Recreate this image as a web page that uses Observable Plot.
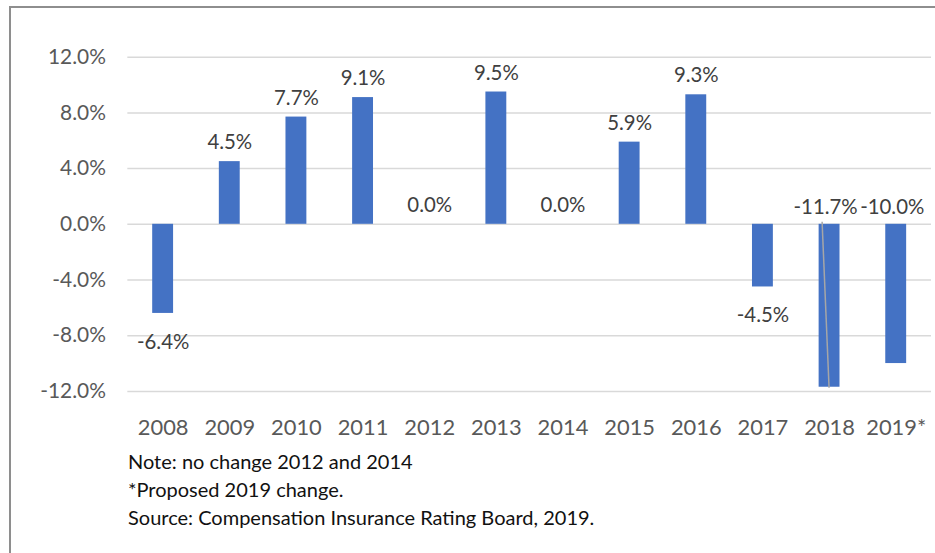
<!DOCTYPE html>
<html>
<head>
<meta charset="utf-8">
<script src="https://cdn.jsdelivr.net/npm/d3@7"></script>
<script src="https://cdn.jsdelivr.net/npm/@observablehq/plot@0.6"></script>
<style>
  html, body { margin: 0; padding: 0; background: #fff; overflow: hidden; }
  #wrap { position: relative; width: 935px; height: 553px; overflow: hidden; font-family: Lato, "Open Sans", sans-serif; }
  #frame { position: absolute; left: 9px; top: 6px; width: 1000px; height: 620px; border: 2px solid #8e8e8e; box-sizing: border-box; }
  #chart { position: absolute; left: 0; top: 0; }
  #caption { position: absolute; left: 128px; top: 447px; font-size: 20px; line-height: 28px; color: #111; white-space: nowrap; }
</style>
</head>
<body>
<div id="wrap">
  <div id="frame"></div>
  <div id="chart"></div>
  <div id="caption"></div>
</div>
<script>
// Data (percent change)
const years = ["2008","2009","2010","2011","2012","2013","2014","2015","2016","2017","2018","2019*"];
const values = [-6.4, 4.5, 7.7, 9.1, 0.0, 9.5, 0.0, 5.9, 9.3, -4.5, -11.7, -10.0];
const yTicks = [-12, -8, -4, 0, 4, 8, 12];
const captionLines = [
  "Note: no change 2012 and 2014",
  "*Proposed 2019 change.",
  "Source: Compensation Insurance Rating Board, 2019."
];
const leaderYears = ["2018"];

const data = years.map((y, i) => ({year: y, value: values[i]}));
const fmt = v => v.toFixed(1) + "%";

const posLabels = data.filter(d => d.value >= 0);
const negLabels = data.filter(d => d.value < 0 && d.value > -9);
const movedLabels = data.filter(d => d.value <= -9);

function leader(index, scales) {
  const ns = "http://www.w3.org/2000/svg";
  const g = document.createElementNS(ns, "g");
  const xs = scales.x, ys = scales.y;
  const bw = xs.bandwidth ? xs.bandwidth() : 0;
  for (const d of data.filter(d => leaderYears.includes(d.year))) {
    const cx = xs(d.year) + bw / 2;
    const line = document.createElementNS(ns, "line");
    line.setAttribute("x1", cx - 7);
    line.setAttribute("y1", ys(0) - 2);
    line.setAttribute("x2", cx);
    line.setAttribute("y2", ys(d.value) + 1);
    line.setAttribute("stroke", "#a6a6a6");
    line.setAttribute("stroke-width", 1.5);
    g.appendChild(line);
  }
  return g;
}

const chart = Plot.plot({
  width: 940,
  height: 446,
  marginLeft: 128,
  marginRight: 4,
  marginTop: 57,
  marginBottom: 53,
  style: {fontFamily: "Lato, 'Open Sans', sans-serif", color: "#595959", background: "transparent", overflow: "visible"},
  x: {domain: years, paddingInner: 0.69, paddingOuter: 0.345, align: 0.5, axis: null, label: null},
  y: {domain: [-12, 12], axis: null, label: null},
  marks: [
    Plot.gridY(yTicks, {stroke: "#d9d9d9", strokeOpacity: 1, strokeWidth: 1.5}),
    Plot.axisY(yTicks, {tickSize: 0, tickPadding: 22, tickFormat: fmt, fontSize: 21, fill: "#595959", label: null}),
    Plot.axisX(years, {tickSize: 0, tickPadding: 28, fontSize: 22, fill: "#595959", label: null}),
    Plot.barY(data, {x: "year", y: "value", fill: "#4472C4"}),
    leader,
    Plot.text(posLabels, {x: "year", y: "value", text: d => fmt(d.value), dy: -19, fontSize: 20.5, fill: "#404040", lineAnchor: "middle"}),
    Plot.text(negLabels, {x: "year", y: "value", text: d => fmt(d.value), dy: 29, fontSize: 20.5, fill: "#404040", lineAnchor: "middle"}),
    Plot.text(movedLabels, {x: "year", y: 0, text: d => fmt(d.value), dy: -17, dx: -4, fontSize: 20.5, fill: "#404040", lineAnchor: "middle"})
  ]
});
document.getElementById("chart").appendChild(chart);

const cap = document.getElementById("caption");
captionLines.forEach(t => {
  const div = document.createElement("div");
  div.textContent = t;
  cap.appendChild(div);
});
</script>
</body>
</html>
